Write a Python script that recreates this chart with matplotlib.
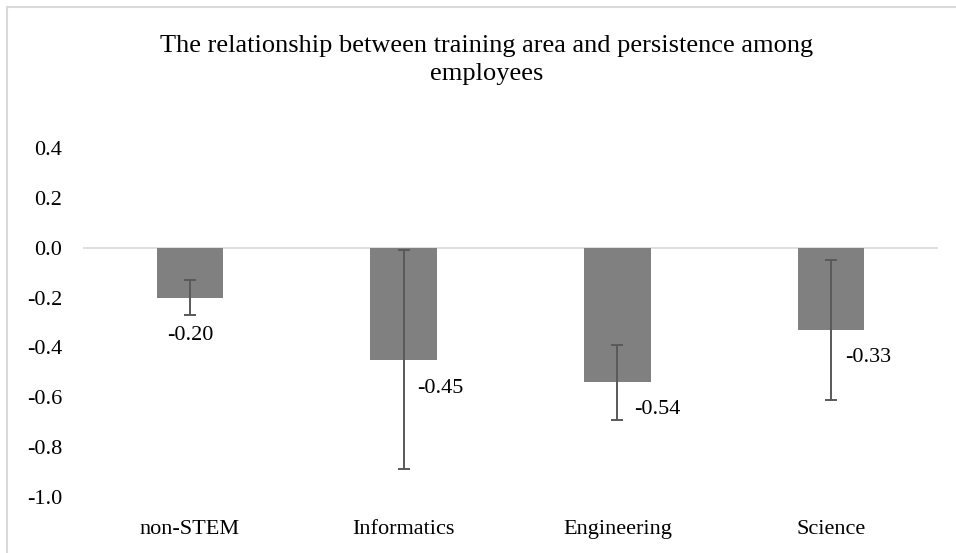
import matplotlib
matplotlib.use("Agg")
import matplotlib.pyplot as plt
from matplotlib.patches import Rectangle
import numpy as np

categories = ["non-STEM", "Informatics", "Engineering", "Science"]
values = [-0.20, -0.45, -0.54, -0.33]
err_upper = [-0.13, -0.01, -0.39, -0.05]   # top end of error bar
err_lower = [-0.27, -0.89, -0.69, -0.61]   # bottom end of error bar
value_labels = ["-0.20", "-0.45", "-0.54", "-0.33"]
yticks = [-1.0, -0.8, -0.6, -0.4, -0.2, 0.0, 0.2, 0.4]
title = "The relationship between training area and persistence among\nemployees"

plt.rcParams["font.family"] = ["Liberation Serif", "DejaVu Serif"]

FS = 16

fig = plt.figure(figsize=(9.56, 5.53), dpi=100)
ax = fig.add_axes([83/956, 1 - 496.7/553, (938-83)/956, (496.7-148.4)/553])

x = np.arange(len(categories))
vals = np.array(values)
yerr = np.array([vals - np.array(err_lower), np.array(err_upper) - vals])

ax.bar(x, vals, width=0.31, color="#808080", zorder=2)
ax.errorbar(x, vals, yerr=yerr, fmt="none", ecolor="#595959", elinewidth=1.4,
            capsize=4.5, capthick=1.4, zorder=3)
ax.axhline(0, color="#d9d9d9", linewidth=1.2, zorder=1)

offsets = [(0, -27.5), (26.6, -20.5), (28.8, -19.4), (26.6, -19.8)]
for xi, v, lab, off in zip(x, vals, value_labels, offsets):
    ax.annotate(lab, (xi, v), xytext=off, textcoords="offset points",
                ha="center", va="center", fontsize=FS, color="#000000")

ax.set_xlim(-0.5, len(categories) - 0.5)
ax.set_ylim(-1.0, 0.4)
ax.set_yticks(yticks)
ax.set_yticklabels([f"{t:.1f}" for t in yticks], fontsize=FS)
ax.set_xticks(x)
ax.set_xticklabels(categories, fontsize=FS)
ax.tick_params(axis="both", length=0)
ax.tick_params(axis="y", pad=15)
ax.tick_params(axis="x", pad=16.5)
for s in ax.spines.values():
    s.set_visible(False)

fig.text(487/956, 1 - 60/553, title, ha="center", va="center", fontsize=19,
         linespacing=1.4)

fig.patches.append(Rectangle((7/956, -0.05), 1.2, 1 - 7/553 + 0.05,
                             transform=fig.transFigure, fill=False,
                             edgecolor="#d9d9d9", linewidth=1.5))

fig.savefig("out.png", dpi=100)
